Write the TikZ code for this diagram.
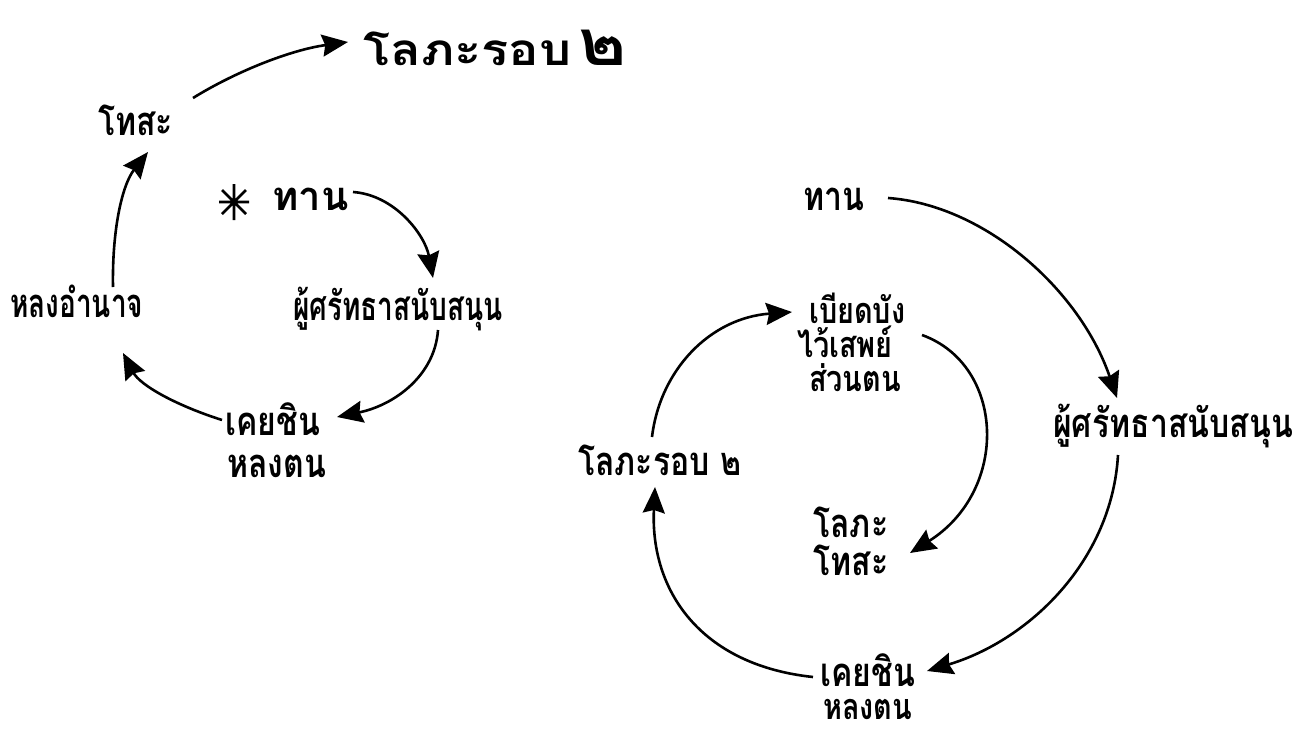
\documentclass[tikz,border=0pt]{standalone}
\usepackage{fontspec}
\newfontfamily\thai[Script=Thai,FakeStretch=0.8]{Loma}
\newfontfamily\thainarrow[Script=Thai,FakeStretch=0.7]{Loma}
\newfontfamily\thaiwide[Script=Thai,FakeStretch=1.0]{Loma}
\newfontfamily\thaixwide[Script=Thai,FakeStretch=1.15]{Loma}
\usetikzlibrary{arrows.meta}
\tikzset{
  lbl/.style={inner sep=0pt, anchor=base west, font=\thai\bfseries\fontsize{40}{44}\selectfont},
  lbls/.style={lbl, font=\thai\bfseries\fontsize{36}{40}\selectfont},
  lbln/.style={lbl, font=\thainarrow\bfseries\fontsize{40}{44}\selectfont},
  lblw/.style={lbl, font=\thaiwide\bfseries\fontsize{40}{44}\selectfont},
  lblx/.style={lbl, font=\thaixwide\bfseries\fontsize{44}{48}\selectfont},
  arr/.style={line width=2.6pt, -{Stealth[length=26pt,width=22pt,inset=3pt]}},
}
\begin{document}
\begin{tikzpicture}[x=1pt,y=-1pt]
\useasboundingbox (0,0) rectangle (1296,731);
% ---------- left cycle ----------
\node[lblx] (T1) at (363,65) {โลภะรอบ\,{\fontsize{64}{64}\selectfont ๒}};
\node[lbl] (T2) at (98,135) {โทสะ};
\node[lblw] (T3) at (272,210) {ทาน};
\node[lbln] (T4) at (10,317) {หลงอำนาจ};
\node[lbln] (T5) at (293,320) {ผู้ศรัทธาสนับสนุน};
\node[lbl] (T6a) at (225,435) {เคยชิน};
\node[lbl] (T6b) at (227,477) {หลงตน};
\coordinate (star) at (234,202);
\draw[line width=2.8pt] ([shift={(0,-18)}]star) -- ([shift={(0,18)}]star)
  ([shift={(-15,0)}]star) -- ([shift={(15,0)}]star)
  ([shift={(-12,-12)}]star) -- ([shift={(12,12)}]star)
  ([shift={(-12,12)}]star) -- ([shift={(12,-12)}]star);
\draw[arr] ([shift={(95,-37)}]T2.base west) .. controls (235,72) and (290,50) .. ([shift={(-15,-23)}]T1.base west);
\draw[arr] ([shift={(103,-30)}]T4.base west) .. controls (112,230) and (122,185) .. ([shift={(50,17)}]T2.base west);
\draw[arr] ([shift={(81,-18)}]T3.base west) .. controls (395,195) and (425,235) .. ([shift={(140,-42)}]T5.base west);
\draw[arr] ([shift={(145,10)}]T5.base west) .. controls (435,375) and (395,405) .. ([shift={(112,-18)}]T6a.base west);
\draw[arr] ([shift={(-3,-15)}]T6a.base west) .. controls (175,405) and (140,385) .. ([shift={(113,36)}]T4.base west);
% ---------- right cycle ----------
\node[lbl] (R1) at (803,210) {ทาน};
\node[lbl] (R2) at (1053,437) {ผู้ศรัทธาสนับสนุน};
\node[lbl, text depth=2pt] (R3a) at (820,686) {เคยชิน};
\node[lbls, text height=26pt, text depth=2pt] (R3b) at (823,719) {หลงตน};
\node[lbls] (R5a) at (809,323) {เบียดบัง};
\node[lbls] (R5b) at (797,357) {ไว้เสพย์};
\node[lbls] (R5c) at (809,391) {ส่วนตน};
\node[lbl] (R4) at (578,475) {โลภะรอบ ๒};
\node[lbl] (R6a) at (813,537) {โลภะ};
\node[lbl] (R6b) at (813,575) {โทสะ};
\draw[arr] ([shift={(85,-12)}]R1.base west) .. controls (985,205) and (1080,290) .. ([shift={(64,-39)}]R2.base west);
\draw[arr] ([shift={(65,18)}]R2.base west) .. controls (1112,560) and (1030,640) .. ([shift={(107,-15)}]R3a.base west);
\draw[arr] ([shift={(-7,-9)}]R3a.base west) .. controls (700,665) and (650,590) .. ([shift={(77,12)}]R4.base west);
\draw[arr] ([shift={(74,-38)}]R4.base west) .. controls (660,370) and (710,318) .. ([shift={(-17,-11)}]R5a.base west);
\draw[arr] ([shift={(125,-22)}]R5b.base west) .. controls (1005,365) and (1010,490) .. ([shift={(97,-22)}]R6b.base west);
\end{tikzpicture}
\end{document}
